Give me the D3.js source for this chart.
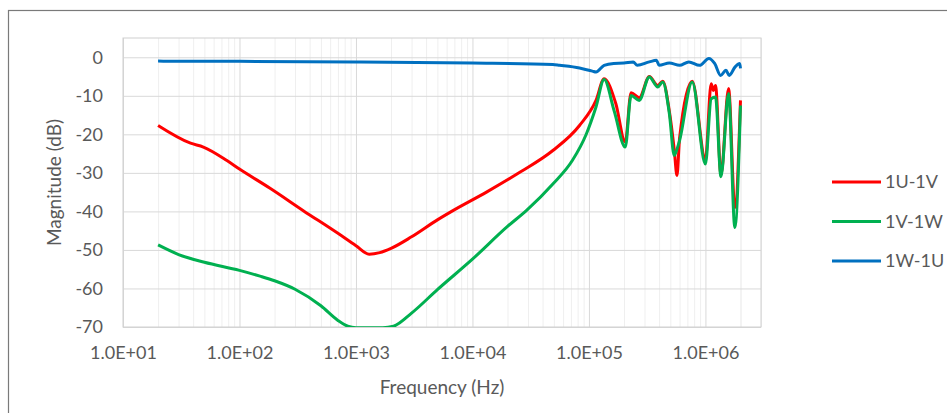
<!DOCTYPE html>
<html>
<head>
<meta charset="utf-8">
<script src="https://cdn.jsdelivr.net/npm/d3@7"></script>
<style>
body { margin: 0; background: #fff; }
text { font-family: Lato, "Open Sans", sans-serif; fill: #595959; }
.line { fill: none; stroke-width: 3px; stroke-linejoin: round; }
.grid line { stroke: #d9d9d9; }
.grid--minor line { stroke: #efefef; }
.axis .domain { display: none; }
</style>
</head>
<body>
<svg id="chart" width="947" height="413"></svg>
<script>

/// Series: frequency (Hz) and magnitude (dB)
var uvFreq = [20, 38, 49, 78, 100, 183, 353, 700, 1000, 1300, 1600, 2000, 3000, 5000, 6800,
  13200, 25700, 49000, 83000, 115000, 135000, 170000, 205000, 230000, 270000, 330000, 390000,
  430000, 490000, 540000, 570000, 600000, 770000, 1000000, 1120000, 1170000, 1220000, 1360000,
  1580000, 1790000, 2000000];
var uvDb = [-17.7, -22.3, -23.3, -26.8, -29, -34, -39.8, -45.7, -48.9, -51.1, -50.7, -49.6, -46.6, -42.2, -39.8,
  -35, -29.8, -24.2, -17.7, -11.2, -5.6, -12, -22, -9.2, -10.5, -5, -7.3,
  -6.2, -14, -24, -30.7, -21, -6.2, -26.5, -6.9, -8.6, -7.3, -30.5,
  -8.1, -39, -11.2];

var vwFreq = [20, 30, 50, 100, 150, 200, 300, 500, 700, 850, 1000, 1300, 1700, 2100, 3000, 5000, 10000,
  20000, 29000, 49000, 72000, 95000, 115000, 135000, 165000, 205000, 230000, 270000, 330000, 390000,
  430000, 490000, 540000, 560000, 600000, 770000, 1000000, 1120000, 1220000, 1360000,
  1580000, 1790000, 2000000];
var vwDb = [-48.7, -51.2, -53.2, -55.3, -56.8, -58, -60.2, -64.5, -68.3, -69.8, -70.2, -70.2, -70.2, -69.8, -66.4, -60.3, -52.4,
  -43.9, -39.8, -32.9, -26.8, -19.9, -12.9, -5.8, -14, -23.3, -9.9, -11.2, -5.1, -7.7,
  -6.4, -14.6, -25.5, -24.5, -21.6, -6.4, -27.7, -10.8, -10.3, -31,
  -9.4, -44.2, -12.5];

var wuFreq = [20, 100, 1000, 10000, 49000, 56000, 83000, 107000, 115000, 135000, 163000, 200000, 240000,
  260000, 330000, 380000, 400000, 490000, 600000, 720000, 890000, 1070000, 1200000, 1350000,
  1500000, 1600000, 1800000, 1970000, 2000000];
var wuDb = [-1.0, -1.05, -1.2, -1.5, -1.9, -2.1, -2.8, -3.6, -3.8, -2.1, -1.6, -1.5, -1.2,
  -2.1, -1.2, -0.8, -2.1, -1.5, -2.1, -1.2, -2.1, -0.3, -1.6, -4.7,
  -3.4, -4.7, -2.5, -1.6, -2.9];

var seriesNames = ["1U-1V", "1V-1W", "1W-1U"];
var seriesColors = ["#ff0000", "#00b050", "#0070c0"];
var xMajorTicks = [1e1, 1e2, 1e3, 1e4, 1e5, 1e6];
var yTicks = [0, -10, -20, -30, -40, -50, -60, -70];

var series = [
  {name: seriesNames[0], color: seriesColors[0], values: uvFreq.map(function(f, i) { return {x: f, y: uvDb[i]}; })},
  {name: seriesNames[1], color: seriesColors[1], values: vwFreq.map(function(f, i) { return {x: f, y: vwDb[i]}; })},
  {name: seriesNames[2], color: seriesColors[2], values: wuFreq.map(function(f, i) { return {x: f, y: wuDb[i]}; })}
];

var svg = d3.select("#chart"),
    margin = {top: 38, right: 186, bottom: 86, left: 123},
    width = +svg.attr("width") - margin.left - margin.right,
    height = +svg.attr("height") - margin.top - margin.bottom;

/// Outer chart border
svg.append("rect")
    .attr("x", 8.5).attr("y", 10.5)
    .attr("width", 960).attr("height", 420)
    .attr("fill", "none").attr("stroke", "#7a7a7a").attr("stroke-width", 1.2);

var g = svg.append("g").attr("transform", "translate(" + margin.left + "," + margin.top + ")");

var x = d3.scaleLog().domain([10, 3e6]).range([0, width]);
var y = d3.scaleLinear().domain([-70, 5]).range([height, 0]);

/// Excel style exponent label, 1.0E+03
function sci(d) {
  var e = Math.round(Math.log10(d));
  var m = d / Math.pow(10, e);
  return m.toFixed(1) + "E" + (e < 0 ? "-" : "+") + (Math.abs(e) < 10 ? "0" : "") + Math.abs(e);
}

/// Minor grid
var minor = x.ticks().filter(function(d) { return xMajorTicks.indexOf(d) < 0; });
minor.push(2e6);
g.append("g")
    .attr("class", "grid grid--minor axis")
    .attr("transform", "translate(0," + height + ")")
    .call(d3.axisBottom(x).tickValues(minor).tickSize(-height).tickFormat(""));

/// Major grid
g.append("g")
    .attr("class", "grid axis")
    .attr("transform", "translate(0," + height + ")")
    .call(d3.axisBottom(x).tickValues(xMajorTicks).tickSize(-height).tickFormat(""));

g.append("g")
    .attr("class", "grid axis")
    .call(d3.axisLeft(y).tickValues(yTicks).tickSize(-width).tickFormat(""));

/// Plot area frame
g.append("rect")
    .attr("width", width).attr("height", height)
    .attr("fill", "none").attr("stroke", "#d0d0d0");

/// Tick labels
var xAxis = g.append("g")
    .attr("class", "axis")
    .attr("transform", "translate(0," + height + ")")
    .call(d3.axisBottom(x).tickValues(xMajorTicks).tickSize(0).tickPadding(19).tickFormat(sci));
xAxis.selectAll("text").style("font-size", "18px");

var yAxis = g.append("g")
    .attr("class", "axis")
    .call(d3.axisLeft(y).tickValues(yTicks).tickSize(0).tickPadding(20).tickFormat(d3.format("d")));
yAxis.selectAll("text").style("font-size", "18px").text(function(d) { return d === 0 ? "0" : "-" + Math.abs(d); });

/// Axis titles
svg.append("text")
    .attr("x", margin.left + width / 2).attr("y", 394)
    .attr("text-anchor", "middle").style("font-size", "19px")
    .text("Frequency (Hz)");

svg.append("text")
    .attr("transform", "translate(61," + (margin.top + height / 2) + ") rotate(-90)")
    .attr("text-anchor", "middle").style("font-size", "19px")
    .text("Magnitude (dB)");

/// Lines, clipped to the plot area
g.append("clipPath").attr("id", "clip")
  .append("rect").attr("width", width).attr("height", height);

var line = d3.line()
    .curve(d3.curveMonotoneX)
    .x(function(d) { return x(d.x); })
    .y(function(d) { return y(d.y); });

g.append("g").attr("clip-path", "url(#clip)")
  .selectAll("path")
  .data(series)
  .enter().append("path")
    .attr("class", "line")
    .attr("stroke", function(d) { return d.color; })
    .attr("d", function(d) { return line(d.values); });

/// Legend
var legend = svg.append("g").selectAll("g")
    .data(series)
  .enter().append("g")
    .attr("transform", function(d, i) { return "translate(832," + (182 + i * 39.5) + ")"; });

legend.append("line")
    .attr("x1", 0).attr("x2", 49)
    .attr("stroke", function(d) { return d.color; })
    .attr("stroke-width", 3);

legend.append("text")
    .attr("x", 53).attr("dy", "0.35em")
    .style("font-size", "18px")
    .text(function(d) { return d.name; });

</script>
</body>
</html>
